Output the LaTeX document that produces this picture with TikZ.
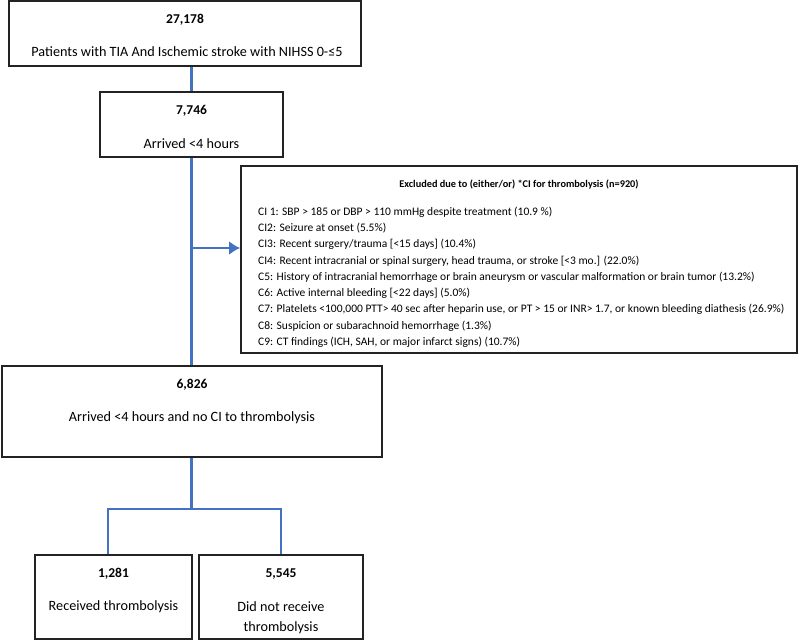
\documentclass[tikz,border=0pt]{standalone}
\usepackage{fontspec}
\setmainfont{Carlito}
\usetikzlibrary{arrows.meta}
\definecolor{conblue}{RGB}{66,114,192}
\definecolor{boxline}{RGB}{35,35,35}
\tikzset{
  box/.style={draw=boxline, line width=1.5pt, rectangle, inner sep=0pt},
  num/.style={font=\fontsize{13.5}{15}\selectfont\bfseries, inner sep=0pt},
  lab/.style={font=\fontsize{14.2}{19.5}\selectfont, inner sep=0pt, align=center},
  item/.style={font=\fontsize{11.5}{12}\selectfont, inner sep=0pt, anchor=west},
  conn/.style={draw=conblue, line width=2.8pt},
}
\begin{document}
\begin{tikzpicture}[x=1pt,y=-1pt]
\useasboundingbox (0,0) rectangle (800,641);
% boxes
\node[box, minimum width=352pt, minimum height=65pt] (b1) at (185,33.5) {};
\node[box, minimum width=183pt, minimum height=65pt] (b2) at (191.5,124.5) {};
\node[box, line width=1.8pt, minimum width=556pt, minimum height=187pt] (ex) at (519,259.5) {};
\node[box, minimum width=380pt, minimum height=91pt] (b3) at (192,411.5) {};
\node[box, minimum width=157pt, minimum height=84pt] (b4) at (113.5,597) {};
\node[box, minimum width=164pt, minimum height=84pt] (b5) at (281,597) {};
% texts
\node[num] (t1a) at (185,20) {27,178};
\node[lab] (t1b) at (187,52) {Patients with TIA And Ischemic stroke with NIHSS 0-≤5};
\node[num] (t2a) at (191.5,111) {7,746};
\node[lab] (t2b) at (191.5,144) {Arrived <4 hours};
\node[num] (t3a) at (192,385) {6,826};
\node[lab] (t3b) at (192,418) {Arrived <4 hours and no CI to thrombolysis};
\node[num] (t4a) at (113.5,574) {1,281};
\node[lab] (t4b) at (113.5,607) {Received thrombolysis};
\node[num] (t5a) at (281,574) {5,545};
\node[lab, anchor=north] (t5b) at (281,601.5) {Did not receive\\thrombolysis};
\node[font=\fontsize{10.3}{12}\selectfont\bfseries, inner sep=0pt] (ext) at (519,184) {Excluded due to (either/or) *CI for thrombolysis (n=920)};
\node[item] (c1) at (258,212) {CI 1: SBP > 185 or DBP > 110 mmHg despite treatment (10.9 \%)};
\node[item] (c2) at (258,228.3) {CI2: Seizure at onset (5.5\%)};
\node[item] (c3) at (258,244.6) {CI3: Recent surgery/trauma [<15 days] (10.4\%)};
\node[item] (c4) at (258,261) {CI4: Recent intracranial or spinal surgery, head trauma, or stroke [<3 mo.] (22.0\%)};
\node[item] (c5) at (258,277.2) {C5: History of intracranial hemorrhage or brain aneurysm or vascular malformation or brain tumor (13.2\%)};
\node[item] (c6) at (258,293.4) {C6: Active internal bleeding [<22 days] (5.0\%)};
\node[item] (c7) at (258,309.6) {C7: Platelets <100,000 PTT> 40 sec after heparin use, or PT > 15 or INR> 1.7, or known bleeding diathesis (26.9\%)};
\node[item] (c8) at (258,325.8) {C8: Suspicion or subarachnoid hemorrhage (1.3\%)};
\node[item] (c9) at (258,342) {C9: CT findings (ICH, SAH, or major infarct signs) (10.7\%)};
% connectors
\coordinate (br) at (191.5,248);
\coordinate (split) at (191.5,509);
\draw[conn] (b2.north) -- (b2.north |- b1.south);
\draw[conn] (b2.south) -- (b2.south |- b3.north);
\draw[conn, -{Latex[length=11pt,width=14pt]}] (br) -- (br -| ex.west);
\draw[conn] (b3.south -| split) -- (split);
\draw[conn] ([xshift=-5.5pt]b4.north) |- (split) -| (b5.north);
\end{tikzpicture}
\end{document}
